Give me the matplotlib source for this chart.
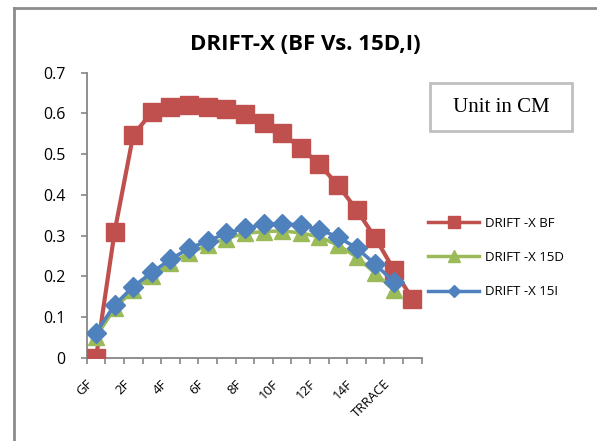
import matplotlib
matplotlib.use("Agg")
import matplotlib.pyplot as plt
import matplotlib.transforms as mtransforms
from matplotlib.lines import Line2D
from matplotlib.patches import Rectangle
import numpy as np

categories = ["GF", "1F", "2F", "3F", "4F", "5F", "6F", "7F", "8F", "9F",
              "10F", "11F", "12F", "13F", "14F", "15F", "TRRACE", ""]
drift_bf = [0.0, 0.31, 0.547, 0.603, 0.617, 0.621, 0.617, 0.611, 0.598, 0.577,
            0.551, 0.516, 0.475, 0.424, 0.364, 0.295, 0.217, 0.145]
drift_15d = [0.052, 0.122, 0.167, 0.200, 0.232, 0.257, 0.277, 0.293, 0.306, 0.310,
             0.312, 0.307, 0.297, 0.277, 0.248, 0.208, 0.167]
drift_15i = [0.062, 0.130, 0.175, 0.210, 0.242, 0.269, 0.287, 0.306, 0.318, 0.328,
             0.330, 0.326, 0.315, 0.297, 0.270, 0.230, 0.187]
series_names = ["DRIFT -X BF", "DRIFT -X 15D", "DRIFT -X 15I"]
title = "DRIFT-X (BF Vs. 15D,I)"
yticks = [0, 0.1, 0.2, 0.3, 0.4, 0.5, 0.6, 0.7]
ytick_labels = ["0", "0.1", "0.2", "0.3", "0.4", "0.5", "0.6", "0.7"]

plt.rcParams['font.family'] = ['Open Sans', 'DejaVu Sans']

W, H = 597, 441
fig = plt.figure(figsize=(W / 100, H / 100), dpi=100)
fig.patch.set_facecolor("white")

x0, x1 = 86.7, 421.7
ytop, ybot = 72.7, 358.0
ax = fig.add_axes([x0 / W, 1 - ybot / H, (x1 - x0) / W, (ybot - ytop) / H])

red = "#C0504D"
green = "#9BBB59"
blue = "#4F81BD"

ax.plot(np.arange(len(drift_bf)), drift_bf, color=red, lw=3.0, marker="s",
        markersize=13.5, markerfacecolor=red, markeredgecolor=red,
        label=series_names[0], zorder=3)
ax.plot(np.arange(len(drift_15d)), drift_15d, color=green, lw=2.6, marker="^",
        markersize=11.5, markerfacecolor=green, markeredgecolor=green,
        label=series_names[1], zorder=4)
ax.plot(np.arange(len(drift_15i)), drift_15i, color=blue, lw=2.6, marker="D",
        markersize=10, markerfacecolor=blue, markeredgecolor=blue,
        label=series_names[2], zorder=5)

n = len(categories)
ax.set_xlim(-0.5, n - 0.5)
ax.set_ylim(0, 0.7)

for s in ["top", "right"]:
    ax.spines[s].set_visible(False)
for s in ["left", "bottom"]:
    ax.spines[s].set_color("#868686")
    ax.spines[s].set_linewidth(1.3)

ax.set_yticks(yticks)
ax.set_yticklabels(ytick_labels, fontsize=11.5)
ax.tick_params(axis="y", direction="out", length=4, width=1.2, color="#868686", pad=11)

major = list(range(0, n, 2))
ax.set_xticks(major)
ax.set_xticklabels([categories[i] for i in major], fontsize=9.5, rotation=45,
                   ha="right", va="top", rotation_mode="anchor")
ax.tick_params(axis="x", which="major", length=0, pad=14)
ax.set_xticks(np.arange(-0.5, n, 1.0), minor=True)
ax.tick_params(axis="x", which="minor", direction="out", length=4, width=1.2, color="#868686")
offset = mtransforms.ScaledTranslation(-10 / 100, 0, fig.dpi_scale_trans)
for lab in ax.get_xticklabels():
    lab.set_transform(lab.get_transform() + offset)

fig.text(305 / W, 1 - 45 / H, title, fontsize=16, fontweight="bold",
         ha="center", va="center")

handles = [
    Line2D([], [], color=red, lw=2.5, marker="s", markersize=8),
    Line2D([], [], color=green, lw=2.5, marker="^", markersize=8),
    Line2D([], [], color=blue, lw=2.5, marker="D", markersize=6),
]
fig.legend(handles, series_names, loc="upper left",
           bbox_to_anchor=(428 / W, 1 - 217 / H), frameon=False,
           fontsize=9.5, handlelength=3.9, handletextpad=0.45,
           labelspacing=1.6, borderpad=0, borderaxespad=0)

fig.patches.append(Rectangle((430 / W, 1 - 131 / H), 142 / W, 48 / H,
                             transform=fig.transFigure, facecolor="white",
                             edgecolor="#BFBFBF", lw=2, zorder=1))
fig.text(501 / W, 1 - 107 / H, "Unit in CM", fontsize=15,
         family="Liberation Serif", ha="center", va="center")

fig.lines.append(Line2D([14 / W, 14 / W], [0, 1 - 8 / H], transform=fig.transFigure,
                        color="#8C8C8C", lw=2))
fig.lines.append(Line2D([14 / W, 1], [1 - 8 / H, 1 - 8 / H], transform=fig.transFigure,
                        color="#8C8C8C", lw=2))

fig.savefig("out.png", dpi=100, facecolor="white")
